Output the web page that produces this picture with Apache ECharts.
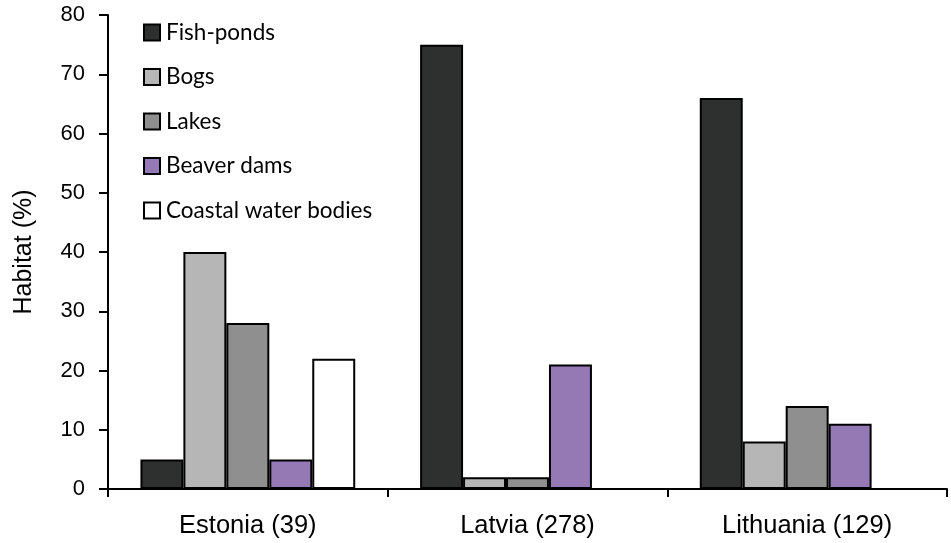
<!DOCTYPE html>
<html>
<head>
<meta charset="utf-8">
<script src="https://cdn.jsdelivr.net/npm/echarts@6/dist/echarts.min.js"></script>
<style>html,body{margin:0;padding:0;background:#fff;}#chart{width:951px;height:543px;}</style>
</head>
<body>
<div id="chart"></div>
<script>
const categories = ['Estonia (39)', 'Latvia (278)', 'Lithuania (129)'];
const seriesNames = ['Fish-ponds', 'Bogs', 'Lakes', 'Beaver dams', 'Coastal water bodies'];
const fishPonds = [5, 75, 66];
const bogs = [40, 2, 8];
const lakes = [28, 2, 14];
const beaverDams = [5, 21, 11];
const coastal = [22, 0, 0];
const yTicks = [0, 10, 20, 30, 40, 50, 60, 70, 80];

const colors = ['#2e302f', '#b5b6b5', '#8f8f8f', '#9479b4', '#ffffff'];
const values = [fishPonds, bogs, lakes, beaverDams, coastal];

const chart = echarts.init(document.getElementById('chart'));
chart.setOption({
  animation: false,
  backgroundColor: '#fff',
  grid: { left: 108, right: 4, top: 15, bottom: 54 },
  legend: {
    orient: 'vertical',
    left: 143,
    top: 21,
    padding: 0,
    itemWidth: 16,
    itemHeight: 16,
    itemGap: 21.5,
    icon: 'rect',
    textStyle: { fontFamily: 'Lato', fontSize: 22.5, color: '#000', padding: [0, 0, 0, 1] },
    data: seriesNames
  },
  xAxis: {
    type: 'category',
    data: categories,
    axisLine: { lineStyle: { color: '#000', width: 2 } },
    axisTick: { show: true, length: 8, lineStyle: { color: '#000', width: 2 } },
    axisLabel: { fontFamily: 'Liberation Sans', fontSize: 25.5, color: '#000', margin: 24 }
  },
  yAxis: {
    type: 'value',
    min: 0, max: 80, interval: 10,
    name: 'Habitat (%)',
    nameLocation: 'middle',
    nameGap: 71,
    nameTextStyle: { fontFamily: 'Liberation Sans', fontSize: 25, color: '#000' },
    axisLine: { show: true, lineStyle: { color: '#000', width: 2 } },
    axisTick: { show: true, length: 9, lineStyle: { color: '#000', width: 2 } },
    axisLabel: { fontFamily: 'Liberation Sans', fontSize: 22, color: '#000', margin: 23 },
    splitLine: { show: false }
  },
  series: seriesNames.map((n, i) => ({
    name: n,
    type: 'bar',
    data: values[i],
    barGap: '0%',
    barCategoryGap: '23.2%',
    itemStyle: { color: colors[i], borderColor: '#000', borderWidth: 2 }
  }))
});
</script>
</body>
</html>
